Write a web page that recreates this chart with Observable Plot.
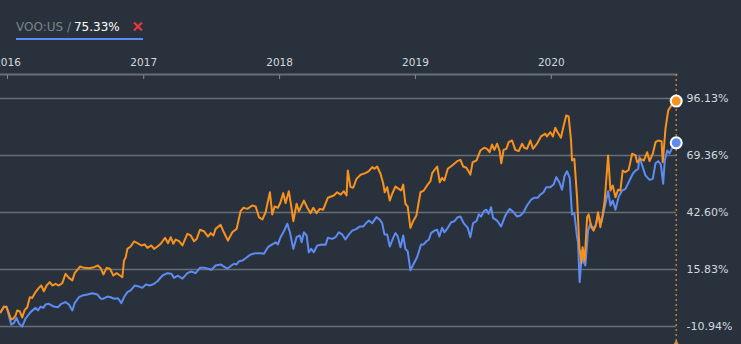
<!DOCTYPE html>
<html>
<head>
<meta charset="utf-8">
<script src="https://cdn.jsdelivr.net/npm/d3@7"></script>
<script src="https://cdn.jsdelivr.net/npm/@observablehq/plot@0.6"></script>
<style>
  html, body { margin: 0; padding: 0; background: #29323c; }
  #wrap { position: relative; width: 741px; height: 344px; overflow: hidden; background: #29323c; }
  #legend { position: absolute; left: 16px; top: 18.6px; font-family: "DejaVu Sans", sans-serif; font-size: 12px; line-height: 16px;
            padding-bottom: 3.5px; border-bottom: 2px solid #5e8bf3; white-space: nowrap; }
  #legend .sym { color: #7b838d; }
  #legend .val { color: #ffffff; margin-left: 3px; }
  #legend svg { margin-left: 13px; vertical-align: baseline; }
  #chart { position: absolute; left: 0; top: 0; }
</style>
</head>
<body>
<div id="wrap">
  <div id="chart"></div>
  <div id="legend"><span class="sym">VOO:US /</span><span class="val">75.33%</span><svg width="10" height="9" viewBox="0 0 10 9"><path d="M1,0.5L9,8.5M9,0.5L1,8.5" stroke="#e5373f" stroke-width="2.2" fill="none"/></svg></div>
</div>
<script>
// Data: [decimal year, cumulative return %]
const benchmarkName = "VOO:US";
const benchmarkLast = 75.33;
const yTicks = [-10.94, 15.83, 42.60, 69.36, 96.13];
const yearTicks = [2016, 2017, 2018, 2019, 2020];

const primarySeries = [
[2015.949,-4.2],[2015.973,-1.6],[2015.993,-1.9],[2016.010,-4.8],[2016.027,-7.7],[2016.042,-7.2],[2016.059,-5.8],[2016.071,-3.4],[2016.090,-3.8],[2016.108,-6.7],
[2016.125,-3.4],[2016.145,-1.9],[2016.164,2.8],[2016.182,2.5],[2016.206,5.2],[2016.230,7.2],[2016.248,8.3],[2016.267,5.6],[2016.287,8.3],[2016.311,9.9],
[2016.329,8.3],[2016.353,9.1],[2016.377,8.3],[2016.402,9.4],[2016.426,13.8],[2016.451,11.9],[2016.476,10.7],[2016.493,14.1],[2016.532,17.2],[2016.561,16.6],
[2016.598,16.4],[2016.635,16.9],[2016.664,17.7],[2016.684,16.4],[2016.704,13.5],[2016.728,16.6],[2016.752,16.2],[2016.777,13.0],[2016.801,14.1],[2016.826,13.0],
[2016.843,12.2],[2016.855,20.0],[2016.868,21.6],[2016.880,25.5],[2016.904,26.6],[2016.929,29.0],[2016.954,28.2],[2016.983,27.1],[2017.007,27.6],[2017.027,26.0],
[2017.057,27.1],[2017.076,25.5],[2017.101,26.6],[2017.125,27.9],[2017.157,30.7],[2017.179,28.2],[2017.199,31.0],[2017.218,27.9],[2017.235,29.9],[2017.260,29.1],
[2017.285,27.1],[2017.321,32.6],[2017.346,31.8],[2017.370,29.1],[2017.390,30.2],[2017.414,34.5],[2017.443,33.8],[2017.473,31.3],[2017.493,32.9],[2017.513,31.8],
[2017.529,34.9],[2017.566,36.8],[2017.590,33.3],[2017.620,29.4],[2017.652,33.3],[2017.684,34.9],[2017.713,43.2],[2017.733,44.8],[2017.763,44.3],[2017.799,45.9],
[2017.824,45.4],[2017.848,40.4],[2017.873,39.3],[2017.897,42.7],[2017.929,52.1],[2017.946,41.7],[2017.963,45.4],[2017.988,44.8],[2018.007,47.4],[2018.027,51.7],
[2018.044,47.0],[2018.068,52.6],[2018.086,45.4],[2018.101,38.5],[2018.125,46.7],[2018.142,43.2],[2018.179,48.2],[2018.204,44.8],[2018.228,42.3],[2018.248,44.8],
[2018.272,42.3],[2018.296,44.3],[2018.321,43.9],[2018.355,49.5],[2018.399,50.6],[2018.424,52.1],[2018.449,51.0],[2018.473,52.6],[2018.493,50.6],[2018.502,62.3],
[2018.522,54.5],[2018.542,54.2],[2018.566,58.4],[2018.596,60.3],[2018.632,61.1],[2018.657,62.0],[2018.682,63.9],[2018.699,63.1],[2018.718,64.2],[2018.743,60.8],
[2018.763,56.1],[2018.774,52.1],[2018.792,54.5],[2018.811,48.2],[2018.829,51.4],[2018.853,54.8],[2018.877,53.7],[2018.895,52.9],[2018.910,55.7],[2018.926,46.7],
[2018.943,45.4],[2018.963,35.4],[2018.983,38.5],[2019.007,41.2],[2019.037,52.1],[2019.061,52.9],[2019.086,55.3],[2019.110,57.3],[2019.123,61.1],[2019.160,64.2],
[2019.179,56.8],[2019.196,58.9],[2019.213,57.6],[2019.238,63.1],[2019.270,64.7],[2019.307,66.7],[2019.331,67.3],[2019.351,64.2],[2019.375,63.6],[2019.404,60.4],
[2019.421,66.2],[2019.449,67.0],[2019.478,71.7],[2019.507,73.0],[2019.527,72.5],[2019.546,70.9],[2019.564,74.5],[2019.581,72.0],[2019.601,74.9],[2019.620,71.4],
[2019.632,65.7],[2019.649,72.0],[2019.669,72.5],[2019.686,75.6],[2019.711,76.4],[2019.735,72.0],[2019.760,71.4],[2019.785,74.9],[2019.801,73.0],[2019.821,72.5],
[2019.846,76.4],[2019.865,72.5],[2019.895,74.9],[2019.924,78.3],[2019.956,79.6],[2019.968,78.3],[2019.993,80.3],[2020.012,78.3],[2020.029,82.4],[2020.046,80.3],
[2020.071,77.7],[2020.091,83.5],[2020.110,88.2],[2020.127,87.7],[2020.145,76.4],[2020.152,67.0],[2020.169,67.8],[2020.189,49.8],[2020.206,26.3],[2020.221,18.8],
[2020.230,26.3],[2020.245,20.0],[2020.263,40.4],[2020.274,41.7],[2020.294,35.7],[2020.311,34.1],[2020.329,37.3],[2020.343,42.7],[2020.360,35.7],[2020.377,41.7],
[2020.392,48.2],[2020.417,69.4],[2020.434,52.9],[2020.451,55.3],[2020.471,49.8],[2020.490,53.3],[2020.507,52.9],[2020.524,62.3],[2020.544,61.5],[2020.568,62.6],
[2020.593,70.2],[2020.618,69.4],[2020.630,66.2],[2020.654,67.8],[2020.679,67.0],[2020.704,70.9],[2020.721,66.7],[2020.745,70.2],[2020.765,75.6],[2020.785,76.4],
[2020.809,76.1],[2020.818,66.2],[2020.838,81.9],[2020.858,90.5],[2020.888,93.6],[2020.917,94.9]
];

const benchmarkSeries = [
[2015.949,-4.2],[2015.973,-1.9],[2015.993,-1.6],[2016.010,-5.8],[2016.027,-10.0],[2016.046,-9.4],[2016.066,-6.9],[2016.083,-9.4],[2016.108,-11.0],[2016.132,-7.3],
[2016.169,-4.2],[2016.206,-2.2],[2016.223,-3.4],[2016.243,-1.6],[2016.263,-2.2],[2016.279,-0.6],[2016.304,-0.3],[2016.340,-1.6],[2016.370,-1.9],[2016.395,-0.3],
[2016.426,0.5],[2016.451,-0.6],[2016.476,-3.4],[2016.493,0.0],[2016.524,2.8],[2016.549,3.6],[2016.586,4.1],[2016.623,4.7],[2016.660,4.1],[2016.684,2.1],
[2016.704,2.1],[2016.733,3.1],[2016.757,2.8],[2016.782,2.1],[2016.811,2.3],[2016.836,0.0],[2016.855,2.8],[2016.880,5.2],[2016.904,6.0],[2016.934,8.3],
[2016.965,7.8],[2016.990,7.2],[2017.015,8.8],[2017.046,8.3],[2017.076,9.1],[2017.101,10.3],[2017.138,13.0],[2017.174,14.1],[2017.204,13.8],[2017.223,11.9],
[2017.252,12.9],[2017.285,11.5],[2017.321,14.1],[2017.351,14.9],[2017.382,14.1],[2017.414,16.6],[2017.449,16.6],[2017.473,16.2],[2017.498,15.7],[2017.529,17.7],
[2017.566,18.2],[2017.590,17.2],[2017.615,16.2],[2017.645,17.7],[2017.664,18.5],[2017.684,18.2],[2017.701,19.7],[2017.726,20.0],[2017.750,21.1],[2017.787,22.9],
[2017.824,23.5],[2017.860,23.5],[2017.885,23.2],[2017.914,26.3],[2017.946,27.6],[2017.971,28.6],[2017.988,27.6],[2018.007,31.0],[2018.032,33.8],[2018.057,37.3],
[2018.076,33.3],[2018.101,25.5],[2018.125,31.0],[2018.149,31.8],[2018.162,28.6],[2018.179,33.3],[2018.199,31.8],[2018.215,23.9],[2018.233,25.5],[2018.252,23.9],
[2018.277,27.1],[2018.314,27.6],[2018.338,27.4],[2018.355,30.7],[2018.388,30.2],[2018.412,31.0],[2018.436,33.3],[2018.461,32.3],[2018.485,29.9],[2018.510,32.3],
[2018.535,34.1],[2018.566,34.9],[2018.590,36.0],[2018.615,36.0],[2018.632,37.3],[2018.657,38.8],[2018.682,37.6],[2018.713,40.4],[2018.738,39.2],[2018.755,37.6],
[2018.772,32.3],[2018.792,32.3],[2018.811,26.6],[2018.836,30.7],[2018.853,32.9],[2018.870,31.3],[2018.890,26.3],[2018.910,31.8],[2018.926,25.5],[2018.943,24.4],
[2018.963,15.4],[2018.987,18.5],[2019.012,21.6],[2019.042,27.6],[2019.061,27.6],[2019.081,29.1],[2019.098,29.8],[2019.115,32.9],[2019.140,34.1],[2019.160,34.5],
[2019.176,31.3],[2019.196,35.4],[2019.213,33.3],[2019.238,35.4],[2019.263,38.0],[2019.287,38.5],[2019.311,40.4],[2019.331,40.7],[2019.355,37.6],[2019.385,35.4],
[2019.404,31.0],[2019.424,37.6],[2019.449,38.5],[2019.466,41.7],[2019.483,40.7],[2019.507,43.5],[2019.522,43.9],[2019.539,42.0],[2019.557,45.1],[2019.571,40.1],
[2019.601,38.8],[2019.630,36.0],[2019.662,41.2],[2019.693,44.3],[2019.723,42.7],[2019.748,40.7],[2019.772,41.2],[2019.796,42.7],[2019.821,45.9],[2019.851,48.6],
[2019.875,49.5],[2019.899,49.5],[2019.919,51.0],[2019.943,52.1],[2019.963,54.5],[2019.993,54.5],[2020.017,55.7],[2020.037,59.2],[2020.059,56.8],[2020.079,53.3],
[2020.096,59.5],[2020.115,62.0],[2020.135,58.9],[2020.152,41.7],[2020.169,42.3],[2020.189,31.0],[2020.196,28.6],[2020.208,9.9],[2020.226,24.7],[2020.238,19.3],
[2020.250,17.7],[2020.270,34.1],[2020.287,37.3],[2020.304,35.4],[2020.324,36.0],[2020.343,41.2],[2020.368,38.0],[2020.392,45.1],[2020.417,52.6],[2020.434,45.9],
[2020.451,48.2],[2020.471,43.9],[2020.495,50.1],[2020.520,52.9],[2020.544,53.7],[2020.568,56.8],[2020.598,60.8],[2020.618,62.3],[2020.638,63.1],[2020.647,68.6],
[2020.667,64.7],[2020.691,60.0],[2020.721,57.9],[2020.745,58.4],[2020.765,65.7],[2020.785,66.7],[2020.804,65.1],[2020.821,56.1],[2020.833,67.0],[2020.851,71.7],
[2020.868,70.4],[2020.888,73.0],[2020.917,75.33]
];

function toDate(yr) {
  const Y = Math.floor(yr);
  const a = Date.UTC(Y, 0, 1), b = Date.UTC(Y + 1, 0, 1);
  return new Date(a + (yr - Y) * (b - a));
}
const primary = primarySeries.map(([t, v]) => ({date: toDate(t), value: v}));
const bench = benchmarkSeries.map(([t, v]) => ({date: toDate(t), value: v}));
const years = yearTicks.map(y => toDate(y));
const lastDate = bench[bench.length - 1].date;

const ORANGE = "#f8921f", BLUE = "#5e8bf3", GRID = "#686e76";

const chart = Plot.plot({
  width: 741, height: 344,
  marginTop: 74, marginBottom: 0, marginLeft: 0, marginRight: 65,
  style: {background: "transparent", color: "#cdd4dc", fontFamily: "'DejaVu Sans', sans-serif", fontSize: "11px", overflow: "hidden"},
  x: {type: "utc", domain: [toDate(2015.9485), toDate(2020.919)]},
  y: {domain: [-19.4, 107.4]},
  marks: [
    Plot.ruleY(yTicks, {stroke: GRID, strokeWidth: 1.6}),
    Plot.frame({anchor: "top", stroke: GRID, strokeWidth: 2}),
    Plot.axisX(years, {anchor: "top", tickSize: 4, dy: 4, tickFormat: () => "", label: null, stroke: "#858b93"}),
    Plot.axisX(years, {anchor: "top", tickSize: 0, tickPadding: 9, tickFormat: d3.utcFormat("%Y"), label: null, fontSize: 10.5, fill: "#d2d8df"}),
    Plot.axisY(yTicks, {anchor: "right", tickSize: 0, tickPadding: 10, tickFormat: d => d.toFixed(2) + "%", label: null, fontSize: 11, fill: "#d2d8df"}),
    Plot.ruleX([lastDate], {stroke: "#c67a30", strokeWidth: 1.5, strokeDasharray: "2,3"}),
    Plot.dot([lastDate], {x: d => d, frameAnchor: "bottom", symbol: "triangle", r: 3, fill: "#d98a3a"}),
    Plot.line(bench, {x: "date", y: "value", stroke: BLUE, strokeWidth: 2}),
    Plot.line(primary, {x: "date", y: "value", stroke: ORANGE, strokeWidth: 2}),
    Plot.dot([primary[primary.length - 1]], {x: "date", y: "value", r: 5.5, fill: ORANGE, stroke: "#ffffff", strokeWidth: 2}),
    Plot.dot([bench[bench.length - 1]], {x: "date", y: "value", r: 5.5, fill: BLUE, stroke: "#ffffff", strokeWidth: 2})
  ]
});
document.getElementById("chart").appendChild(chart);
</script>
</body>
</html>
